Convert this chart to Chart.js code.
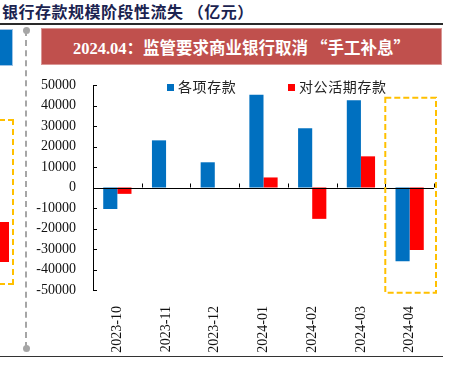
<!DOCTYPE html>
<html>
<head>
<meta charset="utf-8">
<script src="https://cdn.jsdelivr.net/npm/chart.js@4"></script>
<style>
  body { margin: 0; width: 452px; height: 373px; background: #fff; overflow: hidden; position: relative; }
  .abs { position: absolute; }
  #title { left: 2px; top: -1px; font: bold 16px "Noto Sans CJK SC", sans-serif; letter-spacing: 0.5px; color: #1b2350; white-space: nowrap; }
  #rule { left: 0; top: 23px; width: 443px; height: 1.5px; background: #2a2a2a; }
  #bottomRule { left: 0; top: 356px; width: 443px; height: 1px; background: #333; }
  #banner { left: 41px; top: 28px; width: 399px; height: 35px; background: #c0504d; border: 1px solid #d99694;
            color: #fff; font: bold 16.5px "Liberation Serif", "Noto Sans CJK SC", serif; text-align: center; line-height: 36px; white-space: nowrap; }
  #banner .q { font-family: "Noto Sans CJK SC", sans-serif; }
  #leftBlue { left: -2px; top: 29px; width: 13px; height: 35px; background: #0070c0; border: 1px solid #9dc3e6; }
  #divider { left: 25px; top: 30px; height: 318px; border-left: 2px dashed #a6a6a6; }
  .dot { width: 7px; height: 7px; border-radius: 50%; background: #a6a6a6; }
  #leftBox { left: -10px; top: 119px; width: 20px; height: 162px; border: 2px dashed #ffc000; }
  #leftRed { left: 0; top: 222px; width: 9px; height: 40px; background: #ff0000; }
  #legend { left: 0; top: 76px; width: 452px; font: 14px "Noto Sans CJK SC", sans-serif; letter-spacing: 0.6px; color: #222; }
  .item { position: absolute; top: 0; white-space: nowrap; }
  .sw { display: inline-block; width: 7px; height: 7px; margin-right: 4px; vertical-align: 1px; }
  canvas { position: absolute; left: 0; top: 0; }
</style>
</head>
<body>
<div id="title" class="abs">银行存款规模阶段性流失 （亿元）</div>
<div id="rule" class="abs"></div>
<div id="leftBlue" class="abs"></div>
<div id="leftRed" class="abs"></div>
<div id="leftBox" class="abs"></div>
<div id="divider" class="abs"></div>
<div class="abs dot" style="left:23px;top:27px"></div>
<div class="abs dot" style="left:23px;top:345px"></div>
<div id="banner" class="abs">2024.04：监管要求商业银行取消<span class="q" style="margin-left:3px">“</span>手工补息<span class="q">”</span></div>
<div id="bottomRule" class="abs"></div>
<canvas id="c" width="452" height="373"></canvas>
<div id="legend" class="abs"></div>
<script>
const months = ['2023-10', '2023-11', '2023-12', '2024-01', '2024-02', '2024-03', '2024-04'];
const totalDeposits = [-10500, 23000, 12300, 45200, 28900, 42600, -36000];
const corpDemand = [-3100, 0, 0, 4900, -15300, 15200, -30500];
const seriesNames = ['各项存款', '对公活期存款'];
const seriesColors = ['#0070c0', '#ff0000'];
const yTicks = [-50000, -40000, -30000, -20000, -10000, 0, 10000, 20000, 30000, 40000, 50000];

// legend sits inside the plot area, as in the original
const legendPos = [167, 288];
const legend = document.getElementById('legend');
seriesNames.forEach((name, i) => {
  const d = document.createElement('div');
  d.className = 'item';
  d.style.left = legendPos[i] + 'px';
  d.innerHTML = '<span class="sw" style="background:' + seriesColors[i] + '"></span>' + name;
  legend.appendChild(d);
});

// axis line at zero, inward tick marks, highlight box on last month
const axisDecor = {
  id: 'axisDecor',
  afterDatasetsDraw(chart) {
    const { ctx, chartArea, scales } = chart;
    const x = scales.x, y = scales.y;
    const y0 = y.getPixelForValue(0);
    const step = (chartArea.right - chartArea.left) / months.length;
    ctx.save();
    ctx.strokeStyle = '#000';
    ctx.lineWidth = 1;
    ctx.beginPath();
    ctx.moveTo(chartArea.left, Math.round(y0) + 0.5);
    ctx.lineTo(chartArea.right, Math.round(y0) + 0.5);
    yTicks.forEach(v => {
      const py = Math.round(y.getPixelForValue(v)) + 0.5;
      ctx.moveTo(chartArea.left, py);
      ctx.lineTo(chartArea.left + 4, py);
    });
    for (let i = 1; i <= months.length; i++) {
      const px = Math.round(chartArea.left + i * step) + 0.5;
      ctx.moveTo(px, y0);
      ctx.lineTo(px, y0 - 4);
    }
    ctx.stroke();

    const last = x.getPixelForValue(months.length - 1);
    ctx.strokeStyle = '#ffc000';
    ctx.lineWidth = 2;
    ctx.setLineDash([6, 3]);
    ctx.strokeRect(last - step / 2, y.getPixelForValue(43800), step + 2, y.getPixelForValue(-51300) - y.getPixelForValue(43800));
    ctx.restore();
  }
};

new Chart(document.getElementById('c'), {
  type: 'bar',
  data: {
    labels: months,
    datasets: [
      { label: seriesNames[0], data: totalDeposits, backgroundColor: seriesColors[0] },
      { label: seriesNames[1], data: corpDemand, backgroundColor: seriesColors[1] }
    ]
  },
  options: {
    responsive: false,
    animation: false,
    layout: { padding: { left: 0, right: 18, top: 85, bottom: 0 } },
    categoryPercentage: 0.58,
    barPercentage: 1.0,
    plugins: { legend: { display: false }, tooltip: { enabled: false } },
    scales: {
      x: {
        grid: { display: false },
        border: { display: false },
        ticks: {
          minRotation: 90, maxRotation: 90, padding: 8, color: '#111',
          font: { family: 'Liberation Serif', size: 14 }
        },
        afterFit(s) { s.height = 83; }
      },
      y: {
        min: -50000, max: 50000,
        grid: { display: false, drawTicks: false },
        border: { display: true, color: '#000', width: 1 },
        ticks: {
          stepSize: 10000, padding: 17, color: '#111',
          font: { family: 'Liberation Serif', size: 14 },
          callback: v => String(v)
        },
        afterFit(s) { s.width = 93; }
      }
    }
  },
  plugins: [axisDecor]
});
</script>
</body>
</html>
